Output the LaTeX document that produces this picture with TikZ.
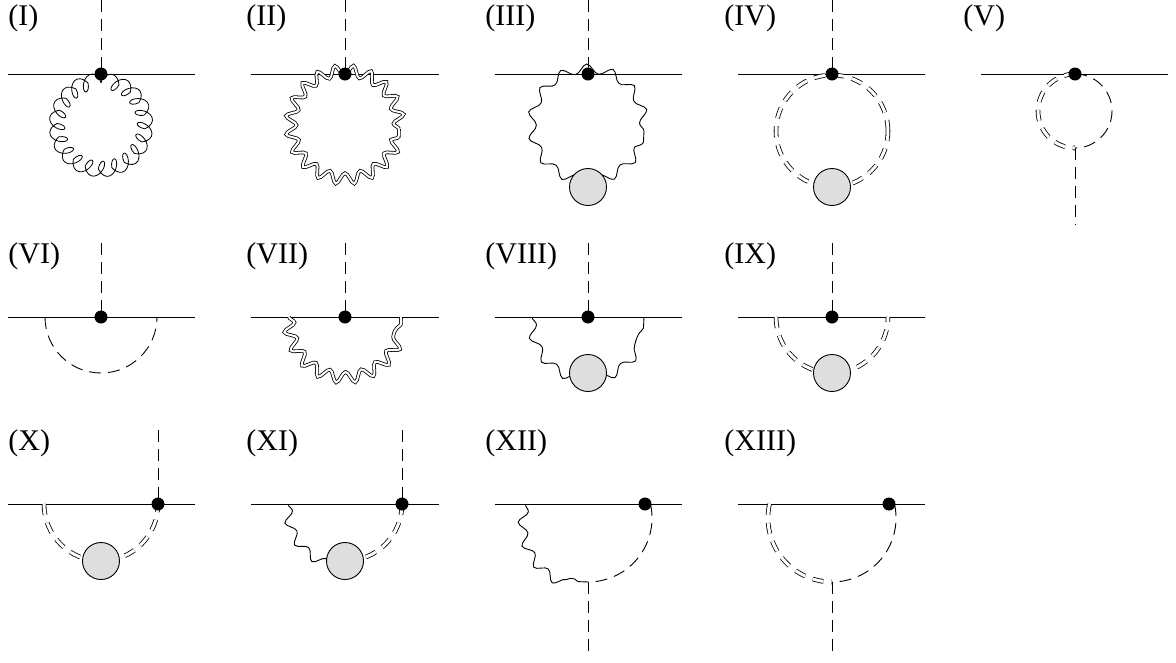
\documentclass[tikz,border=0pt]{standalone}
\usepackage{fontspec}
\setmainfont{Liberation Serif}
\usetikzlibrary{decorations.pathmorphing}
\definecolor{blobclr}{rgb}{0.87, 0.87, 0.87}
\tikzset{ %
  ,every path/.style={line width=0.9pt}
  ,vtx/.style={circle, fill=black, inner sep=0, minimum size=13pt}
  ,blob/.style={draw, circle, fill=blobclr, inner sep=0, minimum size=37pt}
  ,scalar/.style={dash pattern=on 12pt off 7pt}
  ,ghost/.style={double, double distance=3pt, line width=0.8pt, dash pattern=on 11pt off 8pt}
  ,photon/.style={decorate, decoration={snake, amplitude=4.5pt, segment length=25pt}}
  ,dphoton/.style={decorate, double, double distance=2pt, line width=0.8pt, decoration={snake, amplitude=5.5pt, segment length=17pt}}
  ,gluon/.style={decorate, line width=0.8pt, decoration={coil, mirror, amplitude=9pt, segment length=12.98pt, aspect=0.6}}
  ,lbl/.style={anchor=base west, inner sep=0, font=\fontsize{30}{36}\selectfont}
}
\begin{document}
\begin{tikzpicture}[x=1pt, y=1pt]
  \useasboundingbox (0,0) rectangle (1176,-662);
  \node[lbl] (lab1) at (8,-25) {(I)};
  \node[lbl] (lab2) at (246,-25) {(II)};
  \node[lbl] (lab3) at (485,-25) {(III)};
  \node[lbl] (lab4) at (724,-25) {(IV)};
  \node[lbl] (lab5) at (963,-25) {(V)};
  \node[lbl] (lab6) at (8,-263) {(VI)};
  \node[lbl] (lab7) at (246,-263) {(VII)};
  \node[lbl] (lab8) at (485,-263) {(VIII)};
  \node[lbl] (lab9) at (724,-263) {(IX)};
  \node[lbl] (lab10) at (8,-450) {(X)};
  \node[lbl] (lab11) at (246,-450) {(XI)};
  \node[lbl] (lab12) at (485,-450) {(XII)};
  \node[lbl] (lab13) at (724,-450) {(XIII)};

  % (I)
  \begin{scope}[shift={(101,-74)}]
    \coordinate (v1) at (0,0); \coordinate (g1) at (0,-9);
    \coordinate (l1) at (-93,0); \coordinate (r1) at (94,0); \coordinate (t1) at (0,74);
    \draw (l1) -- (r1);
    \draw[scalar] (t1) -- (v1);
    \draw[gluon] (g1) arc (90:450:42pt);
    \node[vtx] (d1) at (v1) {};
  \end{scope}
  % (II)
  \begin{scope}[shift={(345,-74)}]
    \coordinate (v2) at (0,0); \coordinate (c2) at (0,-55);
    \coordinate (l2) at (-94,0); \coordinate (r2) at (94,0); \coordinate (t2) at (0,74);
    \draw (l2) -- (r2);
    \draw[scalar] (t2) -- (v2);
    \draw[dphoton, decoration={segment length=16.9pt}] (c2) circle (54pt);
    \node[vtx] (d2) at (v2) {};
  \end{scope}
  % (III)
  \begin{scope}[shift={(588,-74)}]
    \coordinate (v3) at (0,0); \coordinate (c3) at (0,-57); \coordinate (b3) at (0,-113);
    \coordinate (l3) at (-93,0); \coordinate (r3) at (94,0); \coordinate (t3) at (0,74);
    \draw (l3) -- (r3);
    \draw[scalar] (t3) -- (v3);
    \draw[photon, decoration={segment length=25pt}] (c3) circle (56pt);
    \node[blob] (e3) at (b3) {};
    \node[vtx] (d3) at (v3) {};
  \end{scope}
  % (IV)
  \begin{scope}[shift={(832,-74)}]
    \coordinate (v4) at (0,0); \coordinate (c4) at (0,-57); \coordinate (b4) at (0,-113);
    \coordinate (l4) at (-94,0); \coordinate (r4) at (93,0); \coordinate (t4) at (0,74);
    \draw (l4) -- (r4);
    \draw[scalar] (t4) -- (v4);
    \draw[ghost] (c4) circle (56pt);
    \node[blob] (e4) at (b4) {};
    \node[vtx] (d4) at (v4) {};
  \end{scope}
  % (V)
  \begin{scope}[shift={(1075,-74)}]
    \coordinate (v5) at (0,0); \coordinate (b5) at (0,-74);
    \coordinate (l5) at (-94,0); \coordinate (r5) at (93,0); \coordinate (t5) at (0,-151);
    \draw (l5) -- (r5);
    \draw[ghost] (v5) arc (90:270:37pt);
    \draw[scalar] (v5) arc (90:-90:37pt);
    \draw[scalar] (b5) -- (t5);
    \node[vtx] (d5) at (v5) {};
  \end{scope}

  % (VI)
  \begin{scope}[shift={(101,-317)}]
    \coordinate (v6) at (0,0); \coordinate (a6) at (-56,0);
    \coordinate (l6) at (-93,0); \coordinate (r6) at (94,0); \coordinate (t6) at (0,74);
    \draw (l6) -- (r6);
    \draw[scalar] (t6) -- (v6);
    \draw[scalar] (a6) arc (180:360:56pt);
    \node[vtx] (d6) at (v6) {};
  \end{scope}
  % (VII)
  \begin{scope}[shift={(345,-317)}]
    \coordinate (v7) at (0,0); \coordinate (a7) at (-56,0);
    \coordinate (l7) at (-94,0); \coordinate (r7) at (94,0); \coordinate (t7) at (0,74);
    \draw (l7) -- (r7);
    \draw[scalar] (t7) -- (v7);
    \draw[dphoton, decoration={segment length=17.5pt}] (a7) arc (180:360:56pt);
    \node[vtx] (d7) at (v7) {};
  \end{scope}
  % (VIII)
  \begin{scope}[shift={(588,-317)}]
    \coordinate (v8) at (0,0); \coordinate (a8) at (-56,0); \coordinate (b8) at (0,-56);
    \coordinate (l8) at (-93,0); \coordinate (r8) at (94,0); \coordinate (t8) at (0,74);
    \draw (l8) -- (r8);
    \draw[scalar] (t8) -- (v8);
    \draw[photon, decoration={segment length=24.9pt}] (a8) arc (180:360:56pt);
    \node[blob] (e8) at (b8) {};
    \node[vtx] (d8) at (v8) {};
  \end{scope}
  % (IX)
  \begin{scope}[shift={(832,-317)}]
    \coordinate (v9) at (0,0); \coordinate (a9) at (-56,0); \coordinate (b9) at (0,-56);
    \coordinate (l9) at (-94,0); \coordinate (r9) at (93,0); \coordinate (t9) at (0,74);
    \draw (l9) -- (r9);
    \draw[scalar] (t9) -- (v9);
    \draw[ghost] (a9) arc (180:360:56pt);
    \node[blob] (e9) at (b9) {};
    \node[vtx] (d9) at (v9) {};
  \end{scope}

  % (X)
  \begin{scope}[shift={(101,-504)}]
    \coordinate (v10) at (57,0); \coordinate (a10) at (-57,0); \coordinate (b10) at (0,-57);
    \coordinate (l10) at (-93,0); \coordinate (r10) at (94,0); \coordinate (t10) at (57,74);
    \draw (l10) -- (r10);
    \draw[scalar] (t10) -- (v10);
    \draw[ghost] (a10) arc (180:360:57pt);
    \node[blob] (e10) at (b10) {};
    \node[vtx] (d10) at (v10) {};
  \end{scope}
  % (XI)
  \begin{scope}[shift={(345,-504)}]
    \coordinate (v11) at (57,0); \coordinate (a11) at (-57,0); \coordinate (b11) at (0,-57);
    \coordinate (l11) at (-94,0); \coordinate (r11) at (94,0); \coordinate (t11) at (57,74);
    \draw (l11) -- (r11);
    \draw[scalar] (t11) -- (v11);
    \draw[photon, decoration={segment length=22.3pt}] (a11) arc (180:270:57pt);
    \draw[ghost] (v11) arc (0:-90:57pt);
    \node[blob] (e11) at (b11) {};
    \node[vtx] (d11) at (v11) {};
  \end{scope}
  % (XII)
  \begin{scope}[shift={(588,-504)}]
    \coordinate (v12) at (57,0); \coordinate (a12) at (-62.5,0); \coordinate (s12) at (62.5,0);
    \coordinate (b12) at (0,-78);
    \coordinate (l12) at (-93,0); \coordinate (r12) at (94,0); \coordinate (t12) at (0,-149);
    \draw (l12) -- (r12);
    \draw[photon, decoration={segment length=22.7pt}] (a12) arc (167.4:270:64pt);
    \draw[scalar] (s12) arc (12.6:-90:64pt);
    \draw[scalar] (b12) -- (t12);
    \node[vtx] (d12) at (v12) {};
  \end{scope}
  % (XIII)
  \begin{scope}[shift={(832,-504)}]
    \coordinate (v13) at (57,0); \coordinate (a13) at (-62.5,0); \coordinate (s13) at (62.5,0);
    \coordinate (b13) at (0,-78);
    \coordinate (l13) at (-94,0); \coordinate (r13) at (93,0); \coordinate (t13) at (0,-149);
    \draw (l13) -- (r13);
    \draw[ghost] (a13) arc (167.4:270:64pt);
    \draw[scalar] (s13) arc (12.6:-90:64pt);
    \draw[scalar] (b13) -- (t13);
    \node[vtx] (d13) at (v13) {};
  \end{scope}
\end{tikzpicture}
\end{document}
